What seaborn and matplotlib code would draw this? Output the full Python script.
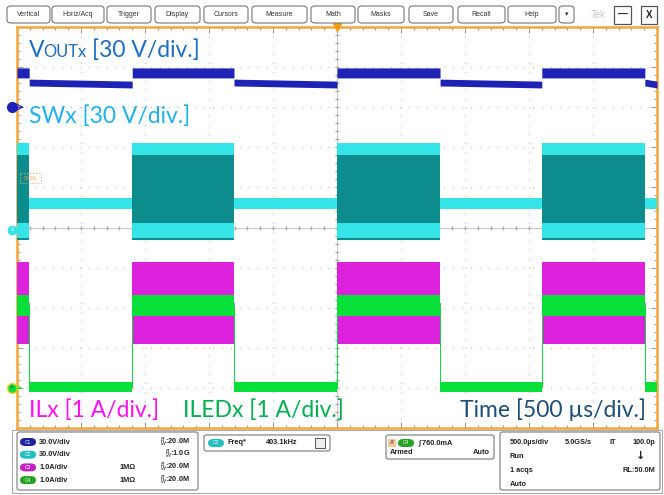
import numpy as np
import matplotlib
matplotlib.use("Agg")
import matplotlib.pyplot as plt
import seaborn as sns
from matplotlib.patches import FancyBboxPatch, Rectangle, Circle

# =========================
# DATA (screen divisions: x = 500 us/div, 0 = trigger; y = div)
# =========================
EDGES = [-5.0, -4.81, -3.20, -1.61, 0.0, 1.61, 3.20, 4.81, 5.0]
LED_ON = [1, 0, 1, 0, 1, 0, 1, 0]

VOUT_ON = (3.73, 3.98)
VOUT_OFF_START = (3.53, 3.70)
VOUT_OFF_END = (3.48, 3.65)
SW_ON = (-0.31, 2.11)
SW_ON_CORE = (0.11, 1.81)
SW_OFF = (0.46, 0.74)
IL_ON = (-2.91, -0.86)
IL_OFF = (-4.02, -3.95)
ILED_ON = (-2.21, -1.68)
ILED_OFF = (-4.10, -3.85)

BUTTONS = ["Vertical", "Horiz/Acq", "Trigger", "Display", "Cursors", "Measure",
           "Math", "Masks", "Save", "Recall", "Help", "▾"]
BUTTON_X = [(7, 50), (52, 104), (107, 151), (155, 200), (204, 248), (252, 307),
            (311, 355), (358, 404), (409, 453), (458, 505), (508, 556), (559, 574)]

CH_SCALE = ["30.0V/div", "30.0V/div", "1.0A/div", "1.0A/div"]
CH_BW = ["20.0M", "1.0G", "20.0M", "20.0M"]
CH_IMP = ["", "", "1MΩ", "1MΩ"]

W, H = 664, 495
C_VOUT = "#1F23B5"
C_SW = "#35E4E6"
C_SW_DARK = "#0C8C8C"
C_IL = "#DD22DD"
C_ILED = "#08E03A"
C_BORDER = "#F2A63C"
C_GRID = "#BDBDBD"


def fx(px):
    return px / W


def fy(py):
    return 1 - py / H


def band(on, off_start, off_end=None):
    """build step arrays for a band trace"""
    off_end = off_end or off_start
    xs, lo, hi = [], [], []
    for i, st in enumerate(LED_ON):
        a, b = EDGES[i], EDGES[i + 1]
        if st:
            s, e = on, on
        else:
            s, e = off_start, off_end
        xs += [a, b]
        lo += [s[0], e[0]]
        hi += [s[1], e[1]]
    return np.array(xs), np.array(lo), np.array(hi)


sns.set_theme(style="white")
plt.rcParams["font.family"] = ["Lato", "DejaVu Sans"]

fig = plt.figure(figsize=(W / 100, H / 100), dpi=100)
fig.patch.set_facecolor("white")

# scope screen
ax = fig.add_axes([fx(17), fy(428), fx(657) - fx(17), fy(27) - fy(428)])
ax.set_xlim(-5, 5)
ax.set_ylim(-5, 5)
ax.set_facecolor("white")

# graticule
for v in range(-4, 5):
    if v == 0:
        continue
    ax.axvline(v, color=C_GRID, lw=0.8, ls=(0, (1, 7)), zorder=0)
    ax.axhline(v, color=C_GRID, lw=0.8, ls=(0, (1, 7)), zorder=0)
ax.axvline(0, color="#C8C8C8", lw=0.8, zorder=0)
ax.axhline(0, color="#C8C8C8", lw=0.8, zorder=0)
minor = np.arange(-5, 5.01, 0.2)
ax.plot(minor, np.zeros_like(minor), ls="none", marker="|", ms=3, color="#AAAAAA", zorder=0)
ax.plot(np.zeros_like(minor), minor, ls="none", marker="_", ms=3, color="#AAAAAA", zorder=0)

ax.set_xticks(np.arange(-5, 5.01, 1))
ax.set_yticks(np.arange(-5, 5.01, 1))
ax.set_xticks(minor, minor=True)
ax.set_yticks(minor, minor=True)
ax.tick_params(which="both", direction="in", top=True, right=True, bottom=True, left=True,
               labelbottom=False, labelleft=False, color="#999999", width=0.7)
ax.tick_params(which="major", length=4)
ax.tick_params(which="minor", length=2.5)
for sp in ax.spines.values():
    sp.set_color(C_BORDER)
    sp.set_linewidth(1.8)

# traces
x, lo, hi = band(VOUT_ON, VOUT_OFF_START, VOUT_OFF_END)
ax.fill_between(x, lo, hi, color=C_VOUT, lw=0, zorder=3)

x, lo, hi = band(SW_ON, SW_OFF)
ax.fill_between(x, lo, hi, color=C_SW, lw=0, zorder=3)
x, lo, hi = band(SW_ON_CORE, (0.6, 0.6))
on_mask = np.repeat(LED_ON, 2).astype(bool)
ax.fill_between(x, lo, hi, where=on_mask, color=C_SW_DARK, lw=0, zorder=4)
x, lo, hi = band((SW_ON[0], SW_ON[0] + 0.05), (SW_OFF[0], SW_OFF[0] + 0.03))
ax.fill_between(x, lo, hi, where=on_mask, color=C_SW_DARK, lw=0, zorder=4)

x, lo, hi = band(IL_ON, IL_OFF)
ax.fill_between(x, lo, hi, color=C_IL, lw=0, zorder=3)
sns.lineplot(x=x, y=(lo + hi) / 2, sort=False, estimator=None, color=C_IL, lw=0.6, ax=ax, zorder=3)

x, lo, hi = band(ILED_ON, ILED_OFF)
sns.lineplot(x=x, y=(lo + hi) / 2, sort=False, estimator=None, color=C_ILED, lw=0.7, ax=ax, zorder=4)
ax.fill_between(x, lo, hi, color=C_ILED, lw=0, zorder=5)
ax.set_xlabel("")
ax.set_ylabel("")

# trigger marker and level box
ax.plot([0], [5], marker="v", ms=6, color="#F39C12", clip_on=False, zorder=10)
ax.add_patch(Rectangle((-4.95, 1.1), 0.33, 0.27, fill=False, ec="#F0B070", ls=":", lw=0.8, zorder=6))
ax.text(-4.79, 1.23, "50.0%", fontsize=3.5, color="#F0A060", ha="center", va="center", zorder=6)

# channel ground markers (left of screen)
ax.plot([-5.08], [3.0], marker="o", ms=7, color=C_VOUT, clip_on=False, zorder=10)
ax.annotate("", xy=(-4.85, 3.0), xytext=(-5.02, 3.0),
            arrowprops=dict(arrowstyle="->", color=C_VOUT, lw=0.8), annotation_clip=False)
ax.plot([-5.08], [-0.05], marker="o", ms=6, color=C_SW, clip_on=False, zorder=10)
ax.text(-5.08, -0.05, "2", fontsize=4, color="white", ha="center", va="center", clip_on=False, zorder=11)
ax.plot([-5.08], [-4.0], marker="o", ms=7, color=C_ILED, mec="#E8D020", mew=1, clip_on=False, zorder=10)
ax.text(-5.08, -4.0, "4", fontsize=4, color="#333333", ha="center", va="center", clip_on=False, zorder=11)
ax.annotate("", xy=(-4.88, -4.0), xytext=(-5.0, -4.0),
            arrowprops=dict(arrowstyle="->", color=C_ILED, lw=0.8), annotation_clip=False)

# channel labels
fs = 16.5
fig.text(fx(29), fy(57), "V", fontsize=fs, color="#1B6EC2", va="baseline")
fig.text(fx(43), fy(57), "OUTx", fontsize=fs * 0.72, color="#1B6EC2", va="baseline")
fig.text(fx(92), fy(57), "[30 V/div.]", fontsize=fs, color="#1B6EC2", va="baseline")
fig.text(fx(29), fy(123), "SWx [30 V/div.]", fontsize=fs, color="#1FB2EE", va="baseline")
fig.text(fx(29), fy(417), "ILx [1 A/div.]", fontsize=fs, color="#FF10F0", va="baseline")
fig.text(fx(183), fy(417), "ILEDx [1 A/div.]", fontsize=fs, color="#00B04F", va="baseline")
fig.text(fx(646), fy(417), "Time [500 µs/div.]", fontsize=fs, color="#1F4E79", va="baseline", ha="right")

# toolbar
small = dict(fontsize=5, color="#333333", family=["Liberation Sans", "DejaVu Sans"])
for name, (x0, x1) in zip(BUTTONS, BUTTON_X):
    fig.patches.append(FancyBboxPatch((fx(x0), fy(23)), fx(x1 - x0), fy(6) - fy(23),
                                      boxstyle="round,pad=0,rounding_size=0.006",
                                      transform=fig.transFigure, fc="white", ec="#777777", lw=0.8))
    fig.text(fx((x0 + x1) / 2), fy(14.5), name, ha="center", va="center", **small)
fig.text(fx(598), fy(14.5), "Tek", fontsize=7, color="#C8C8C8", ha="center", va="center",
         family=["Liberation Sans", "DejaVu Sans"])
for (x0, x1), s in zip([(614, 631), (641, 657)], ["—", "X"]):
    fig.patches.append(Rectangle((fx(x0), fy(24)), fx(x1 - x0), fy(6) - fy(24),
                                 transform=fig.transFigure, fc="white", ec="#555555", lw=0.9))
    fig.text(fx((x0 + x1) / 2), fy(15), s, ha="center", va="center", fontsize=7, color="#222222",
             fontweight="bold", family=["Liberation Sans", "DejaVu Sans"])

# bottom status panel
def box(x0, y0, x1, y1, r=0.004):
    fig.patches.append(FancyBboxPatch((fx(x0), fy(y1)), fx(x1 - x0), fy(y0) - fy(y1),
                                      boxstyle=f"round,pad=0,rounding_size={r}",
                                      transform=fig.transFigure, fc="white", ec="#888888", lw=0.9))


def pill(x0, yc, color, label):
    fig.patches.append(FancyBboxPatch((fx(x0), fy(yc + 4)), fx(16), fy(yc - 4) - fy(yc + 4),
                                      boxstyle="round,pad=0,rounding_size=0.008",
                                      transform=fig.transFigure, fc=color, ec="none"))
    fig.text(fx(x0 + 8), fy(yc), label, ha="center", va="center", fontsize=3.5, color="white",
             family=["Liberation Sans", "DejaVu Sans"])


fig.patches.append(Rectangle((fx(12), fy(493)), fx(650), fy(430) - fy(493),
                             transform=fig.transFigure, fc="white", ec="#AAAAAA", lw=0.8, zorder=-1))
box(17, 432, 198, 490)
box(204, 435, 330, 451)
box(386, 435, 494, 459)
box(500, 432, 660, 490)

tb = dict(fontsize=5.3, color="#222222", fontweight="bold", family=["Liberation Sans", "DejaVu Sans"])
pill_colors = ["#2222A0", "#22BFBF", "#C322C3", "#22A322"]
for i in range(4):
    yc = 442 + i * 12.7
    pill(20, yc, pill_colors[i], f"C{i + 1}")
    fig.text(fx(39), fy(yc), CH_SCALE[i], va="center", **tb)
    fig.text(fx(190), fy(yc), r"$^{B}_{W}$" + ":" + CH_BW[i], va="center", ha="right", **tb)
    if CH_IMP[i]:
        fig.text(fx(120), fy(yc), CH_IMP[i], va="center", **tb)

pill(208, 443, "#22BFBF", "C2")
fig.text(fx(228), fy(443), "Freq*", va="center", **tb)
fig.text(fx(266), fy(443), "403.1kHz", va="center", **tb)
fig.patches.append(Rectangle((fx(315), fy(448)), fx(10), fy(438) - fy(448),
                             transform=fig.transFigure, fc="#EEEEEE", ec="#555555", lw=0.7))

fig.patches.append(Rectangle((fx(388), fy(447)), fx(8), fy(439) - fy(447),
                             transform=fig.transFigure, fc="#F6C89A", ec="none"))
fig.text(fx(392), fy(443), "A'", ha="center", va="center", fontsize=4, color="#333333",
         family=["Liberation Sans", "DejaVu Sans"])
pill(398, 443, "#22A322", "C4")
fig.text(fx(418), fy(443), "∫ 760.0mA", va="center", **tb)
fig.text(fx(390), fy(453), "Armed", va="center", **tb)
fig.text(fx(490), fy(453), "Auto", va="center", ha="right", **tb)

fig.text(fx(510), fy(442), "500.0µs/div", va="center", **tb)
fig.text(fx(565), fy(442), "5.0GS/s", va="center", **tb)
fig.text(fx(609), fy(442), "IT", va="center", **tb)
fig.text(fx(655), fy(442), "100.0p", va="center", ha="right", **tb)
fig.text(fx(510), fy(456), "Run", va="center", **tb)
fig.text(fx(641), fy(456), "↓", va="center", ha="center", fontsize=8, fontweight="bold", color="#222222",
         family=["DejaVu Sans"])
fig.text(fx(510), fy(470), "1 acqs", va="center", **tb)
fig.text(fx(655), fy(470), "RL:50.0M", va="center", ha="right", **tb)
fig.text(fx(510), fy(484), "Auto", va="center", **tb)

fig.savefig("out.png", dpi=100)
